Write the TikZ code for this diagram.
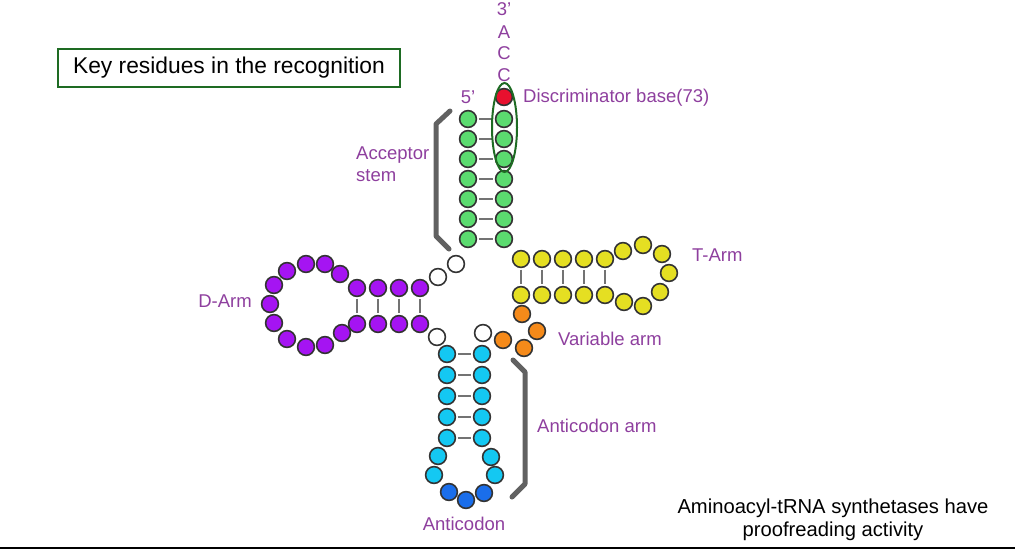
\documentclass[tikz,border=0pt]{standalone}
\usepackage{fontspec}
\setmainfont{Liberation Sans}
\definecolor{ntgreen}{HTML}{5BDB6F}
\definecolor{ntred}{HTML}{E8102E}
\definecolor{ntyellow}{HTML}{E5DF22}
\definecolor{ntpurple}{HTML}{A514F2}
\definecolor{ntorange}{HTML}{F58A1A}
\definecolor{ntcyan}{HTML}{14C8F2}
\definecolor{ntblue}{HTML}{1A6EEB}
\definecolor{labpurple}{HTML}{8E3F9E}
\definecolor{keygreen}{HTML}{1E6B23}
\begin{document}
\begin{tikzpicture}[x=1pt,y=-1pt,
  base/.style={circle,draw=black!80,line width=1.6pt,minimum size=16.8pt,inner sep=0pt},
  pair/.style={draw=black!55,line width=2pt,shorten <=1.5pt,shorten >=1.5pt},
  lab/.style={text=labpurple,font=\fontsize{18.5}{22}\selectfont,inner sep=0pt},
  brk/.style={draw=black!62,line width=5pt,line cap=round,line join=round}]
\useasboundingbox (0,0) rectangle (1015,550);

% acceptor stem
\foreach \i/\y in {1/119,2/139,3/159,4/179,5/199,6/219,7/239}{
  \node[base,fill=ntgreen] (a\i) at (468,\y) {};
  \node[base,fill=ntgreen] (b\i) at (504,\y) {};
  \draw[pair] (a\i) -- (b\i);
}
\node[base,fill=ntred] (disc) at (504,97) {};

% unpaired whites
\node[base,fill=white] (w1) at (456,264) {};
\node[base,fill=white] (w2) at (438,277) {};
\node[base,fill=white] (w3) at (437,337) {};
\node[base,fill=white] (w4) at (483,333) {};

% D arm
\foreach \i/\x in {1/357,2/378,3/399,4/420}{
  \node[base,fill=ntpurple] (d\i) at (\x,288) {};
  \node[base,fill=ntpurple] (e\i) at (\x,324) {};
  \draw[pair] (d\i) -- (e\i);
}
\foreach \i/\x/\y in {1/340/274,2/325/264,3/306/264,4/287/271,5/274/285,6/270/304,7/274/323,8/287/339,9/306/347,10/325/345,11/342/333}{
  \node[base,fill=ntpurple] (dl\i) at (\x,\y) {};
}

% T arm
\foreach \i/\x in {1/521,2/542,3/563,4/584,5/605}{
  \node[base,fill=ntyellow] (t\i) at (\x,259) {};
  \node[base,fill=ntyellow] (u\i) at (\x,295) {};
  \draw[pair] (t\i) -- (u\i);
}
\foreach \i/\x/\y in {1/623/251,2/643/245,3/662/254,4/669/273,5/660/292,6/643/306,7/624/302}{
  \node[base,fill=ntyellow] (tl\i) at (\x,\y) {};
}

% variable arm
\foreach \i/\x/\y in {1/522/314,2/537/331,3/503/340,4/524/348}{
  \node[base,fill=ntorange] (v\i) at (\x,\y) {};
}

% anticodon arm
\foreach \i/\y in {1/354,2/375,3/396,4/417,5/438}{
  \node[base,fill=ntcyan] (c\i) at (447,\y) {};
  \node[base,fill=ntcyan] (f\i) at (482,\y) {};
  \draw[pair] (c\i) -- (f\i);
}
\node[base,fill=ntcyan] (cl1) at (438,456) {};
\node[base,fill=ntcyan] (cl2) at (434,475) {};
\node[base,fill=ntblue] (ac1) at (449,492) {};
\node[base,fill=ntblue] (ac2) at (466,500) {};
\node[base,fill=ntblue] (ac3) at (484,493) {};
\node[base,fill=ntcyan] (cl3) at (495,475) {};
\node[base,fill=ntcyan] (cl4) at (491,457) {};

% brackets
\draw[brk] (450,111) -- (436,124) -- (436,236) -- (449,249);
\draw[brk] (513,360) -- (525,372) -- (525,484) -- (512,497);

% key residues ellipse
\draw[keygreen,line width=2pt] (504.5,127.5) ellipse [x radius=12.5pt,y radius=44.5pt];

% labels
\node[lab] (l3) at (504,9) {3'};
\node[lab] (lA) at (504,32) {A};
\node[lab] (lC1) at (504,53) {C};
\node[lab] (lC2) at (504,75) {C};
\node[lab] (l5) at (468,97) {5'};
\node[lab,anchor=west] (ldisc) at (523,98) {Discriminator base(73)};
\node[lab,anchor=north west,align=left] (lacc) at (356,147) {Acceptor\\stem};
\node[lab,anchor=east] (ldarm) at (252,301) {D-Arm};
\node[lab,anchor=west] (ltarm) at (692,255) {T-Arm};
\node[lab,anchor=west] (lvar) at (558,339) {Variable arm};
\node[lab,anchor=west] (lanti) at (537,426) {Anticodon arm};
\node[lab] (lac) at (464,524) {Anticodon};

\node[draw=keygreen,line width=2.2pt,font=\fontsize{22.8}{26}\selectfont,minimum width=342pt,minimum height=38pt,inner sep=0pt] (key) at (229,68) {Key residues in the recognition};

\node[font=\fontsize{20.2}{23}\selectfont,align=center,inner sep=0pt] (note) at (833,520) {Aminoacyl-tRNA synthetases have\\proofreading activity};

\draw[line width=1.5pt] (0,548) -- (1015,548);
\end{tikzpicture}
\end{document}
